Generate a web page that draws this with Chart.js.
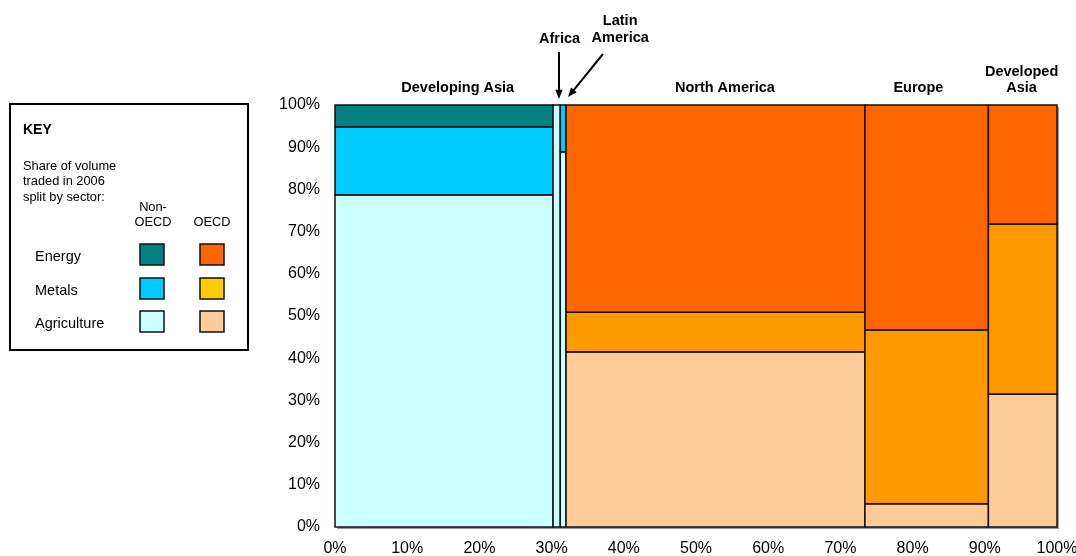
<!DOCTYPE html>
<html>
<head>
<meta charset="utf-8">
<script src="https://cdn.jsdelivr.net/npm/chart.js@4.4.1/dist/chart.umd.min.js"></script>
<style>
  body { margin: 0; background: #fff; }
  #wrap { width: 1076px; height: 556px; position: relative; }
</style>
</head>
<body>
<div id="wrap"><canvas id="chart"></canvas></div>
<script>
// regions (columns) and their share of total volume, in %
const regions = ['Developing Asia', 'Africa', 'Latin America', 'North America', 'Europe', 'Developed Asia'];
const isOECD = [false, false, false, true, true, true];
const volumeShare = [30.2, 1.0, 0.8, 41.4, 17.1, 9.5];

// split by sector, % of each region (bottom to top)
const agriculture = [78.7, 100, 88.9, 41.5, 5.5, 31.5];
const metals = [16.1, 0, 11.1, 9.4, 41.2, 40.3];
const energy = [5.2, 0, 0, 49.1, 53.3, 28.2];

const axisTicks = [0, 10, 20, 30, 40, 50, 60, 70, 80, 90, 100];

const colors = {
  nonOECD: { energy: '#008080', metals: '#00CCFF', agriculture: '#CCFFFF' },
  OECD: { energy: '#FF6600', metals: '#FF9900', agriculture: '#FFCC99' },
  keyOECD: { energy: '#FF6600', metals: '#FFCC00', agriculture: '#FFCC99' }
};

const FONT = '"Liberation Sans", Arial, sans-serif';
Chart.defaults.font.family = FONT;
Chart.defaults.color = '#000';

// marimekko rectangles, drawn through the chart scales
const mekkoPlugin = {
  id: 'mekko',
  beforeDatasetsDraw(chart) {
    const { ctx, scales: { x, y } } = chart;
    ctx.save();
    // soft shadow under the plot
    ctx.fillStyle = '#9a9a9a';
    const l = x.getPixelForValue(0), r = x.getPixelForValue(100);
    const t = y.getPixelForValue(100), b = y.getPixelForValue(0);
    ctx.fillRect(l + 2, t + 2, r - l, b - t);

    let x0 = 0;
    regions.forEach((name, i) => {
      const x1 = x0 + volumeShare[i];
      const pal = isOECD[i] ? colors.OECD : colors.nonOECD;
      const parts = [
        [agriculture[i], pal.agriculture],
        [metals[i], pal.metals],
        [energy[i], pal.energy]
      ];
      let y0 = 0;
      parts.forEach(([v, c]) => {
        if (v <= 0) return;
        const y1 = y0 + v;
        const px0 = x.getPixelForValue(x0), px1 = x.getPixelForValue(x1);
        const py0 = y.getPixelForValue(y0), py1 = y.getPixelForValue(y1);
        ctx.fillStyle = c;
        ctx.fillRect(px0, py1, px1 - px0, py0 - py1);
        ctx.strokeStyle = '#111';
        ctx.lineWidth = 1.5;
        ctx.strokeRect(px0, py1, px1 - px0, py0 - py1);
        y0 = y1;
      });
      x0 = x1;
    });
    ctx.restore();
  }
};

function arrow(ctx, xa, ya, xb, yb) {
  const ang = Math.atan2(yb - ya, xb - xa);
  const head = 10;
  ctx.beginPath();
  ctx.moveTo(xa, ya);
  ctx.lineTo(xb - Math.cos(ang) * head * 0.8, yb - Math.sin(ang) * head * 0.8);
  ctx.stroke();
  ctx.beginPath();
  ctx.moveTo(xb, yb);
  ctx.lineTo(xb - head * Math.cos(ang - 0.38), yb - head * Math.sin(ang - 0.38));
  ctx.lineTo(xb - head * Math.cos(ang + 0.38), yb - head * Math.sin(ang + 0.38));
  ctx.closePath();
  ctx.fill();
}

// region names, arrows and the KEY box
const annotatePlugin = {
  id: 'annotate',
  afterDraw(chart) {
    const { ctx, scales: { x } } = chart;
    ctx.save();
    ctx.fillStyle = '#000';
    ctx.strokeStyle = '#000';
    ctx.textAlign = 'center';
    ctx.textBaseline = 'middle';
    ctx.font = 'bold 14.5px ' + FONT;
    const spots = [
      [regions[0], 17.0, [88]],
      [regions[3], 54.0, [88]],
      [regions[4], 80.8, [88]],
      ['Developed|Asia', 95.1, [72, 88]],
      [regions[1], 31.1, [39]],
      ['Latin|America', 39.5, [21, 38]]
    ];
    spots.forEach(([txt, xv, ys]) => {
      const lines = txt.split('|');
      lines.forEach((ln, k) => ctx.fillText(ln, x.getPixelForValue(xv), ys[k]));
    });
    ctx.lineWidth = 2;
    arrow(ctx, 559, 52, 559, 99);
    arrow(ctx, 603, 54, 568, 97);

    // KEY box
    ctx.lineWidth = 2;
    ctx.strokeRect(10, 104, 238, 246);
    ctx.textAlign = 'left';
    ctx.font = 'bold 14px ' + FONT;
    ctx.fillText('KEY', 23, 130);
    ctx.font = '12.8px ' + FONT;
    ['Share of volume', 'traded in 2006', 'split by sector:'].forEach((s, k) => ctx.fillText(s, 23, 166 + k * 15.5));
    ctx.textAlign = 'center';
    ctx.fillText('Non-', 153, 207);
    ctx.fillText('OECD', 153, 222);
    ctx.fillText('OECD', 212, 222);
    ctx.textAlign = 'left';
    ctx.font = '14.5px ' + FONT;
    const rows = [['Energy', 'energy', 257], ['Metals', 'metals', 291], ['Agriculture', 'agriculture', 324]];
    rows.forEach(([lbl, key, yy]) => {
      ctx.fillStyle = '#000';
      ctx.fillText(lbl, 35, yy);
      ctx.lineWidth = 1.5;
      ctx.strokeStyle = '#111';
      ctx.fillStyle = colors.nonOECD[key];
      ctx.fillRect(140, yy - 13, 24, 21);
      ctx.strokeRect(140, yy - 13, 24, 21);
      ctx.fillStyle = colors.keyOECD[key];
      ctx.fillRect(200, yy - 13, 24, 21);
      ctx.strokeRect(200, yy - 13, 24, 21);
    });
    ctx.restore();
  }
};

const pct = v => v + '%';

new Chart(document.getElementById('chart'), {
  type: 'scatter',
  data: { datasets: [{ data: [], showLine: false }] },
  options: {
    responsive: true,
    maintainAspectRatio: false,
    animation: false,
    events: [],
    layout: { padding: { top: 105, right: 0, bottom: 0, left: 0 } },
    plugins: { legend: { display: false }, tooltip: { enabled: false } },
    scales: {
      x: {
        type: 'linear', min: 0, max: 100,
        afterBuildTicks: s => { s.ticks = axisTicks.map(v => ({ value: v })); },
        afterFit: s => { s.height = 29; s.paddingLeft = 0; s.paddingRight = 19; },
        grid: { display: false, drawTicks: false },
        border: { display: false },
        ticks: { callback: pct, padding: 12, maxRotation: 0, font: { size: 16 } }
      },
      y: {
        type: 'linear', min: 0, max: 100,
        afterBuildTicks: s => { s.ticks = axisTicks.map(v => ({ value: v })); },
        afterFit: s => { s.width = 335; },
        grid: { display: false, drawTicks: false },
        border: { display: false },
        ticks: { callback: pct, padding: 15, font: { size: 16 } }
      }
    }
  },
  plugins: [mekkoPlugin, annotatePlugin]
});
</script>
</body>
</html>
